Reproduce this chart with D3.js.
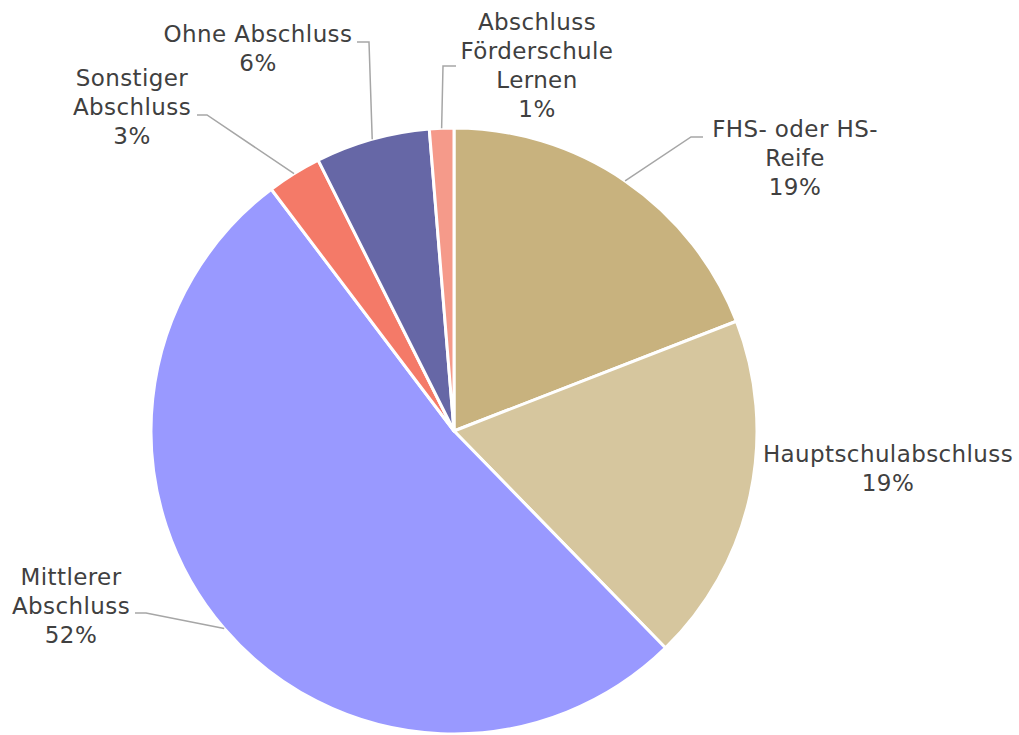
<!DOCTYPE html>
<html>
<head>
<meta charset="utf-8">
<script src="https://cdn.jsdelivr.net/npm/d3@7"></script>
<style>
  html, body { margin: 0; padding: 0; background: #ffffff; }
  svg { display: block; }
</style>
</head>
<body>
<svg id="chart" width="1019" height="735"></svg>
<script>
// ---- data ----
const categories = [
  "FHS- oder HS-Reife",
  "Hauptschulabschluss",
  "Mittlerer Abschluss",
  "Sonstiger Abschluss",
  "Ohne Abschluss",
  "Abschluss Förderschule Lernen"
];
const values = [19.1, 18.6, 52.0, 2.9, 6.1, 1.3];
const labelLines = [
  ["FHS- oder HS-", "Reife"],
  ["Hauptschulabschluss"],
  ["Mittlerer", "Abschluss"],
  ["Sonstiger", "Abschluss"],
  ["Ohne Abschluss"],
  ["Abschluss", "Förderschule", "Lernen"]
];
const colors = ["#C8B27E", "#D6C69E", "#9999FF", "#F47A68", "#6667A6", "#F59A8A"];

// ---- layout (label anchors & leader elbows) ----
const labelLayout = [
  { x: 795, y: 137, elbow: [691, 137], end: 703 },
  { x: 888, y: 462, elbow: null },
  { x: 71,  y: 585, elbow: [146, 613], end: 135 },
  { x: 132, y: 86,  elbow: [207, 115], end: 197 },
  { x: 258, y: 42,  elbow: [369, 42],  end: 357 },
  { x: 537, y: 30,  elbow: [443, 66],  end: 456 }
];

const W = 1019, H = 735;
const cx = 454, cy = 431, R = 303;
const lineH = 29;

const svg = d3.select("#chart");
const g = svg.append("g").attr("transform", `translate(${cx},${cy})`);

const total = d3.sum(values);
const pie = d3.pie().sort(null).value(d => d)(values);
const arc = d3.arc().innerRadius(0).outerRadius(R);
const outerArc = d3.arc().innerRadius(R).outerRadius(R);

g.selectAll("path.slice")
  .data(pie)
  .join("path")
  .attr("class", "slice")
  .attr("d", arc)
  .attr("fill", (d, i) => colors[i])
  .attr("stroke", "#ffffff")
  .attr("stroke-width", 3)
  .attr("stroke-linejoin", "round");

// leader lines
pie.forEach((d, i) => {
  const L = labelLayout[i];
  if (!L.elbow) return;
  const c = outerArc.centroid(d);
  const start = [cx + c[0], cy + c[1]];
  svg.append("polyline")
    .attr("points", [start, L.elbow, [L.end, L.elbow[1]]].map(p => p.join(",")).join(" "))
    .attr("fill", "none")
    .attr("stroke", "#A6A6A6")
    .attr("stroke-width", 1.5);
});

// labels
pie.forEach((d, i) => {
  const L = labelLayout[i];
  const pct = Math.round(d.value / total * 100) + "%";
  const lines = labelLines[i].concat([pct]);
  const t = svg.append("text")
    .attr("text-anchor", "middle")
    .attr("font-family", "'DejaVu Sans', Verdana, sans-serif")
    .attr("font-size", 23)
    .attr("letter-spacing", "0.4px")
    .attr("fill", "#404040");
  lines.forEach((s, k) => {
    t.append("tspan").attr("x", L.x).attr("y", L.y + k * lineH).text(s);
  });
});
</script>
</body>
</html>
